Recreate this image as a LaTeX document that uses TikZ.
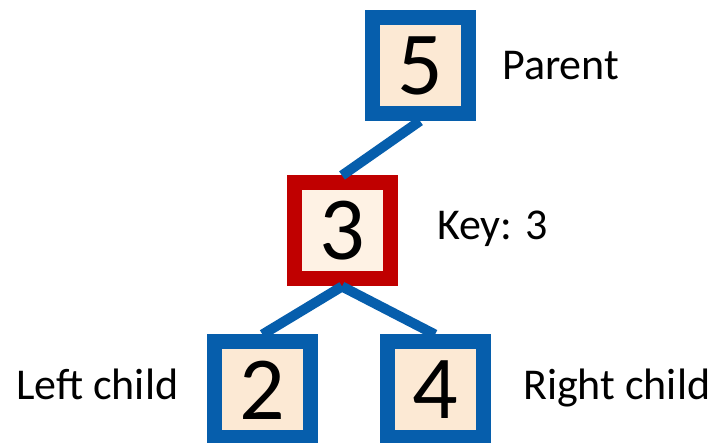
\documentclass[tikz,border=0pt]{standalone}
\usepackage{fontspec}
\setmainfont{Carlito}
\usetikzlibrary{positioning}
\definecolor{treeblue}{RGB}{6, 94, 172}
\definecolor{treered}{RGB}{192, 0, 0}
\definecolor{nodefill}{RGB}{252, 233, 212}
\definecolor{keyfill}{RGB}{254, 242, 228}

\begin{document}
\begin{tikzpicture}[x=1pt,y=1pt,
  box/.style={draw=treeblue,fill=nodefill,line width=15pt,minimum size=96pt,inner sep=0pt,font=\fontsize{90}{90}\selectfont},
  keybox/.style={box,draw=treered,fill=keyfill},
  edge/.style={draw=treeblue,line width=10pt},
  lbl/.style={anchor=base west,inner sep=0pt,font=\fontsize{44}{44}\selectfont}]
\useasboundingbox (0,0) rectangle (719,443);

% Parent and the key node
\node[box] (p5) at (420,377.5) {5};
\node[keybox] (k3) at (342,212) {3};

% Children
\node[box] (l2) at (262.5,53) {2};
\node[box] (r4) at (435,53) {4};

% Edges sit on top of the borders
\draw[edge] (p5.south) -- (k3.north);
\draw[edge] (k3.south) -- (l2.north);
\draw[edge] (k3.south) -- (r4.north);

% Labels
\node[lbl] (parent) at (502,363) {Parent};
\node[lbl] (key) at (437,203) {Key: 3};
\node[lbl] (left) at (16,43) {Left child};
\node[lbl] (right) at (523,43) {Right child};
\end{tikzpicture}
\end{document}
